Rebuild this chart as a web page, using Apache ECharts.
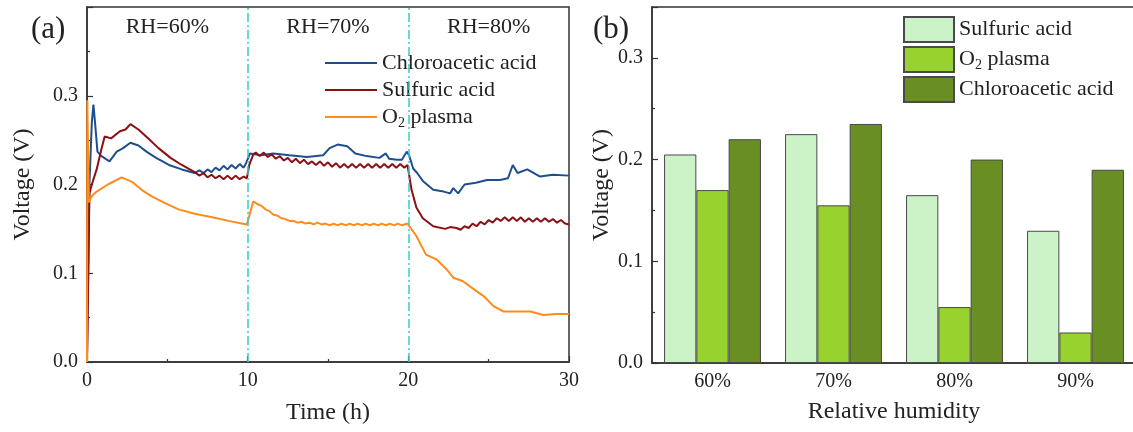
<!DOCTYPE html>
<html>
<head>
<meta charset="utf-8">
<script src="https://cdn.jsdelivr.net/npm/echarts@6/dist/echarts.min.js"></script>
<style>
  html, body { margin: 0; padding: 0; background: #fff; }
  #wrap { position: relative; width: 1133px; height: 432px; }
  #chartA { position: absolute; left: 0; top: 0; width: 585px; height: 432px; }
  #chartB { position: absolute; left: 585px; top: 0; width: 548px; height: 432px; }
</style>
</head>
<body>
<div id="wrap">
  <div id="chartA"></div>
  <div id="chartB"></div>
</div>
<script>
// (a) voltage vs time, [hour, volt]
var chloroacetic = [
  [0, 0], [0.15, 0.2], [0.3, 0.27], [0.4, 0.29], [0.5, 0.27], [0.65, 0.237], [0.9, 0.232],
  [1.4, 0.226], [1.85, 0.237], [2.25, 0.241], [2.7, 0.247], [3.2, 0.244], [3.7, 0.237],
  [4.3, 0.23], [5.1, 0.222], [5.9, 0.217], [6.7, 0.213], [7.0, 0.216], [7.25, 0.213],
  [7.5, 0.217], [7.75, 0.214], [8.0, 0.219], [8.25, 0.216], [8.5, 0.221], [8.75, 0.217],
  [9.0, 0.222], [9.25, 0.218], [9.5, 0.223], [9.75, 0.219], [9.9, 0.224],
  [10.15, 0.235], [10.8, 0.233], [11.6, 0.235], [12.6, 0.233],
  [13.7, 0.231], [14.7, 0.233], [15.1, 0.241], [15.6, 0.245], [16.2, 0.243], [16.7, 0.235],
  [17.4, 0.232], [18.2, 0.23], [18.6, 0.235], [18.8, 0.229], [19.3, 0.228], [19.6, 0.228],
  [19.9, 0.237], [20.05, 0.233], [20.3, 0.218], [20.55, 0.213], [20.9, 0.204], [21.55, 0.194],
  [22.2, 0.192], [22.6, 0.19], [22.8, 0.196], [23.1, 0.19], [23.5, 0.2], [24.2, 0.202],
  [24.9, 0.205], [25.7, 0.205], [26.2, 0.207], [26.5, 0.222], [26.8, 0.213], [27.4, 0.217],
  [28.2, 0.209], [29.0, 0.211], [30, 0.21]
];
var sulfuric = [
  [0, 0], [0.15, 0.19], [0.3, 0.2], [0.6, 0.217], [0.9, 0.24], [1.1, 0.254], [1.5, 0.252],
  [2.05, 0.26], [2.4, 0.262], [2.7, 0.268], [3.2, 0.262], [3.8, 0.252], [4.45, 0.241],
  [5.2, 0.23], [5.9, 0.222], [6.7, 0.214], [7.0, 0.21], [7.25, 0.213], [7.5, 0.208],
  [7.75, 0.211], [8.0, 0.207], [8.25, 0.21], [8.5, 0.206], [8.75, 0.21], [9.0, 0.206],
  [9.25, 0.21], [9.5, 0.206], [9.75, 0.209], [9.95, 0.207],
  [10.1, 0.222], [10.35, 0.234], [10.5, 0.236], [10.75, 0.232], [11.0, 0.236], [11.25, 0.231],
  [11.5, 0.234], [11.75, 0.229], [12.0, 0.232], [12.25, 0.227], [12.5, 0.23], [12.75, 0.225],
  [13.0, 0.229], [13.25, 0.224], [13.5, 0.228], [13.75, 0.223], [14.0, 0.226], [14.25, 0.222],
  [14.5, 0.226], [14.75, 0.221], [15.0, 0.225], [15.25, 0.22], [15.5, 0.224], [15.75, 0.219],
  [16.0, 0.223], [16.25, 0.219], [16.5, 0.223], [16.75, 0.219], [17.0, 0.223], [17.25, 0.219],
  [17.5, 0.223], [17.75, 0.219], [18.0, 0.223], [18.25, 0.219], [18.5, 0.223], [18.75, 0.219],
  [19.0, 0.223], [19.25, 0.219], [19.5, 0.223], [19.75, 0.219], [19.95, 0.222],
  [20.2, 0.194], [20.5, 0.174], [20.9, 0.162], [21.55, 0.153], [22.3, 0.15], [22.6, 0.152],
  [23.0, 0.151], [23.25, 0.149], [23.5, 0.153], [23.75, 0.151], [24.0, 0.156], [24.25, 0.153],
  [24.5, 0.158], [24.75, 0.155], [25.0, 0.16], [25.25, 0.157], [25.5, 0.162], [25.75, 0.159],
  [26.0, 0.163], [26.25, 0.159], [26.5, 0.163], [26.75, 0.159], [27.0, 0.163], [27.25, 0.158],
  [27.5, 0.162], [27.75, 0.158], [28.0, 0.162], [28.25, 0.158], [28.5, 0.162], [28.75, 0.158],
  [29.0, 0.161], [29.25, 0.157], [29.5, 0.16], [29.75, 0.156], [30, 0.155]
];
var o2Plasma = [
  [0, 0], [0.02, 0.295], [0.12, 0.18], [0.3, 0.187], [0.6, 0.192], [1.3, 0.2], [2.15, 0.208],
  [2.8, 0.203], [3.4, 0.194], [4.0, 0.187], [4.85, 0.179], [5.7, 0.172], [6.7, 0.167],
  [7.8, 0.163], [8.8, 0.159], [9.95, 0.155], [10.35, 0.181], [10.6, 0.178], [10.85, 0.176],
  [11.1, 0.172], [11.35, 0.17], [11.6, 0.166], [11.85, 0.165], [12.1, 0.162], [12.35, 0.161],
  [12.6, 0.159], [12.85, 0.159], [13.1, 0.157], [13.35, 0.158], [13.6, 0.156], [13.85, 0.157],
  [14.1, 0.155], [14.35, 0.157], [14.6, 0.155], [14.85, 0.156], [15.1, 0.154], [15.35, 0.156],
  [15.6, 0.154], [15.85, 0.156], [16.1, 0.154], [16.35, 0.156], [16.6, 0.154], [16.85, 0.156],
  [17.1, 0.154], [17.35, 0.156], [17.6, 0.154], [17.85, 0.156], [18.1, 0.154], [18.35, 0.156],
  [18.6, 0.154], [18.85, 0.156], [19.1, 0.154], [19.35, 0.156], [19.6, 0.154], [19.95, 0.156],
  [20.5, 0.142], [21.1, 0.121], [21.8, 0.115], [22.4, 0.104], [22.8, 0.095], [23.4, 0.091],
  [24.0, 0.083], [24.7, 0.074], [25.3, 0.063], [25.9, 0.057], [26.7, 0.057], [27.6, 0.057],
  [28.4, 0.053], [29.2, 0.054], [30, 0.054]
];
var rhSwitch = [10, 20];
var rhLabels = ['RH=60%', 'RH=70%', 'RH=80%'];
var rhLabelAt = [5, 15, 25];

// (b) voltage vs relative humidity
var humidity = ['60%', '70%', '80%', '90%'];
var barSulfuric = [0.205, 0.225, 0.165, 0.13];
var barO2 = [0.17, 0.155, 0.055, 0.03];
var barChloro = [0.22, 0.235, 0.2, 0.19];

var serif = 'Liberation Serif';
var ink = '#222';
var axisColor = '#333';

function o2Format(name) {
  return name === 'O2 plasma' ? 'O{sub|2} plasma' : name;
}
var legendText = {
  fontFamily: serif, fontSize: 22, color: ink,
  rich: { sub: { fontFamily: serif, fontSize: 14, color: ink, padding: [12, 0, 0, 0] } }
};

function valueAxis(opt) {
  return Object.assign({
    type: 'value',
    nameLocation: 'middle',
    nameMoveOverlap: false,
    nameTextStyle: { fontFamily: serif, fontSize: 24, color: ink },
    axisLine: { show: true, onZero: false, lineStyle: { color: axisColor, width: 1.5 } },
    axisTick: { show: true, inside: true, length: 6, lineStyle: { color: axisColor, width: 1.2 } },
    minorTick: { show: true, splitNumber: 2, length: 3, lineStyle: { color: axisColor, width: 1.2 } },
    splitLine: { show: false },
    axisLabel: { fontFamily: serif, fontSize: 20, color: ink, margin: 9 }
  }, opt);
}

// ---------- panel (a)
var chartA = echarts.init(document.getElementById('chartA'));
chartA.setOption({
  animation: false,
  grid: {
    left: 87, right: 16, top: 7, bottom: 70, outerBoundsMode: 'none',
    show: true, borderColor: axisColor, borderWidth: 1.5, backgroundColor: 'transparent'
  },
  legend: {
    left: 320, top: 47, orient: 'vertical',
    icon: 'rect', itemWidth: 52, itemHeight: 2, itemGap: 5,
    formatter: o2Format,
    textStyle: legendText,
    data: ['Chloroacetic acid', 'Sulfuric acid', 'O2 plasma']
  },
  xAxis: valueAxis({
    min: 0, max: 30, interval: 10,
    name: 'Time (h)', nameGap: 39
  }),
  yAxis: valueAxis({
    min: 0, max: 0.4, interval: 0.1,
    name: 'Voltage (V)', nameGap: 52,
    axisLabel: {
      fontFamily: serif, fontSize: 20, color: ink, margin: 9, showMaxLabel: false,
      formatter: function (v) { return v.toFixed(1); }
    }
  }),
  series: [
    {
      name: 'Chloroacetic acid', type: 'line', data: chloroacetic,
      symbol: 'none', lineStyle: { color: '#1f4e8f', width: 2 }, itemStyle: { color: '#1f4e8f' },
      markLine: {
        silent: true, symbol: 'none', label: { show: false },
        lineStyle: { color: '#33cccc', width: 1.5, type: [9, 3, 2, 3] },
        data: rhSwitch.map(function (t) { return { xAxis: t }; })
      },
      z: 3
    },
    {
      name: 'Sulfuric acid', type: 'line', data: sulfuric,
      symbol: 'none', lineStyle: { color: '#8b1014', width: 2 }, itemStyle: { color: '#8b1014' }, z: 3
    },
    {
      name: 'O2 plasma', type: 'line', data: o2Plasma,
      symbol: 'none', lineStyle: { color: '#ff8c1a', width: 2 }, itemStyle: { color: '#ff8c1a' }, z: 3
    }
  ]
});

var graphicsA = [{
  type: 'text', x: 31, y: 30,
  style: { text: '(a)', font: '31px "Liberation Serif"', fill: ink, align: 'left', verticalAlign: 'middle' }
}];
rhLabels.forEach(function (txt, i) {
  graphicsA.push({
    type: 'text', x: chartA.convertToPixel({ xAxisIndex: 0 }, rhLabelAt[i]), y: 27,
    style: { text: txt, font: '22px "Liberation Serif"', fill: ink, align: 'center', verticalAlign: 'middle' }
  });
});
chartA.setOption({ graphic: graphicsA });

// ---------- panel (b)
var chartB = echarts.init(document.getElementById('chartB'));
var barBorder = { borderColor: '#4a4a4a', borderWidth: 1 };
chartB.setOption({
  animation: false,
  grid: {
    left: 67, right: -3, top: 7, bottom: 69, outerBoundsMode: 'none',
    show: true, borderColor: axisColor, borderWidth: 1.5, backgroundColor: 'transparent'
  },
  legend: {
    left: 313, top: 11, orient: 'vertical',
    icon: 'rect', itemWidth: 50, itemHeight: 25, itemGap: 3,
    formatter: o2Format,
    textStyle: legendText,
    data: ['Sulfuric acid', 'O2 plasma', 'Chloroacetic acid']
  },
  xAxis: [
    {
      type: 'category', data: humidity,
      name: 'Relative humidity', nameLocation: 'middle', nameGap: 37,
      nameTextStyle: { fontFamily: serif, fontSize: 24, color: ink },
      axisLine: { lineStyle: { color: axisColor, width: 1.5 } },
      axisTick: { inside: true, alignWithLabel: true, length: 3, lineStyle: { color: axisColor } },
      axisLabel: { fontFamily: serif, fontSize: 20, color: ink, margin: 9 }
    },
    {
      type: 'category', data: humidity, position: 'bottom',
      axisLine: { show: false },
      axisTick: { inside: true, length: 3, lineStyle: { color: axisColor } },
      axisLabel: { show: false }
    }
  ],
  yAxis: valueAxis({
    min: 0, max: 0.35, interval: 0.1,
    name: 'Voltage (V)', nameGap: 38,
    axisLabel: {
      fontFamily: serif, fontSize: 20, color: ink, margin: 9, showMaxLabel: false,
      formatter: function (v) { return v.toFixed(1); }
    }
  }),
  series: [
    { name: 'Sulfuric acid', type: 'bar', data: barSulfuric, barWidth: 32.3, barGap: '0%',
      itemStyle: Object.assign({ color: '#ccf3c8' }, barBorder) },
    { name: 'O2 plasma', type: 'bar', data: barO2, barWidth: 32.3, barGap: '0%',
      itemStyle: Object.assign({ color: '#97d22f' }, barBorder) },
    { name: 'Chloroacetic acid', type: 'bar', data: barChloro, barWidth: 32.3, barGap: '0%',
      itemStyle: Object.assign({ color: '#688e24' }, barBorder) }
  ],
  graphic: [{
    type: 'text', x: 8, y: 30,
    style: { text: '(b)', font: '31px "Liberation Serif"', fill: ink, align: 'left', verticalAlign: 'middle' }
  }]
});
</script>
</body>
</html>
